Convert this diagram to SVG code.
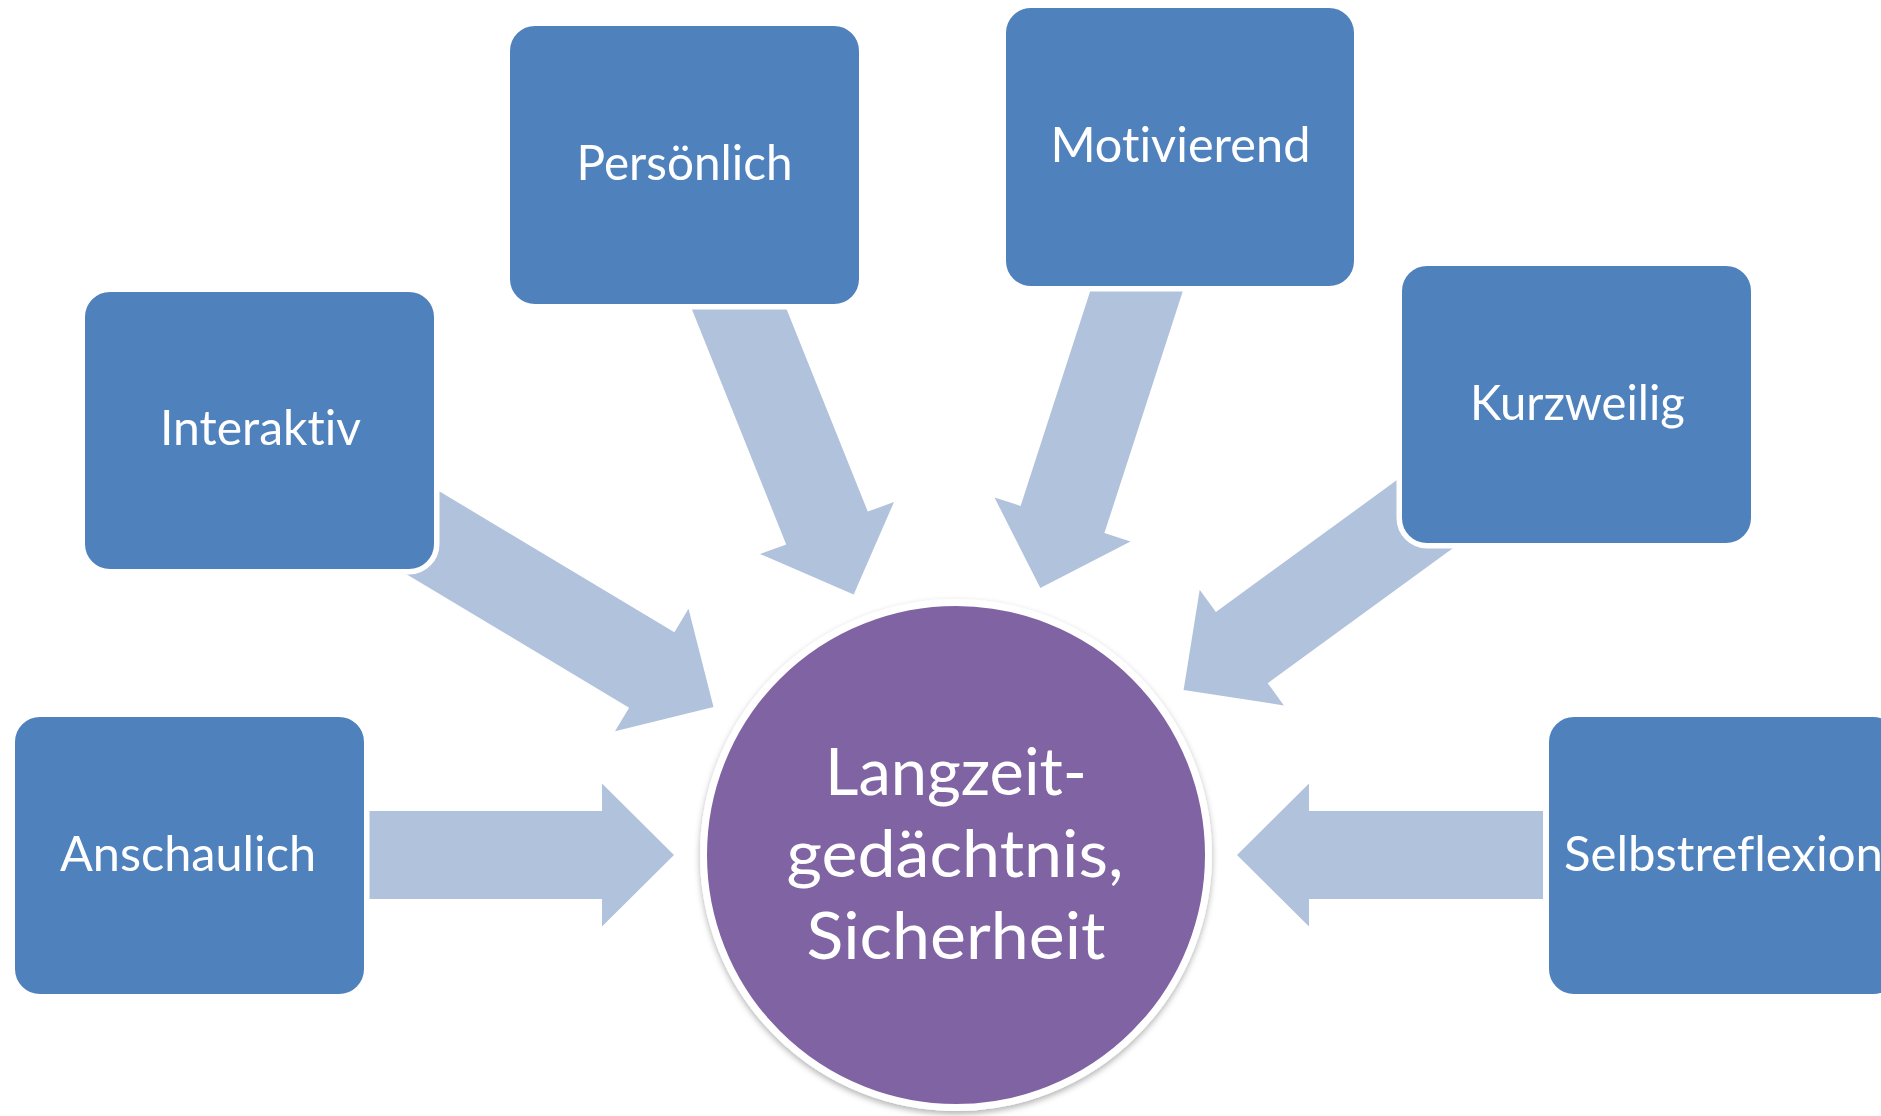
<svg xmlns="http://www.w3.org/2000/svg" width="1881" height="1116" viewBox="0 0 1881 1116">
  <defs>
    <style>
      .arrow { fill: #B1C2DC; }
      .box { fill: #4F81BD; stroke: #FFFFFF; stroke-width: 5.5; }
      .lbl { font-family: Lato, "Liberation Sans", sans-serif; font-size: 49px; fill: #FFFFFF; text-anchor: middle; font-variant-ligatures: none; font-feature-settings: "liga" 0, "clig" 0; }
      .clbl { font-family: Lato, "Liberation Sans", sans-serif; font-size: 65px; fill: #FFFFFF; text-anchor: middle; font-variant-ligatures: none; font-feature-settings: "liga" 0, "clig" 0; }
    </style>
    <filter id="shadow" x="-20%" y="-20%" width="140%" height="140%">
      <feDropShadow dx="0" dy="3" stdDeviation="3" flood-color="#000000" flood-opacity="0.3"/>
    </filter>
  </defs>
  <rect x="0" y="0" width="1881" height="1116" fill="#FFFFFF"/>

  <g id="connectors">
    <polygon class="arrow" points="369,811 602,811 602,783.5 674,855 602,926.5 602,899 369,899"/>
    <polygon class="arrow" points="1543,811 1309,811 1309,783.5 1237,855 1309,926.5 1309,899 1543,899"/>
    <polygon class="arrow" points="417.1,478 674.4,632.2 688.5,608.7 713.5,707 615,731.3 629.1,707.7 371.9,553.4"/>
    <polygon class="arrow" points="674.5,266.1 786.2,544.4 760,554 853.7,594.5 894,502 867.8,511.6 756.1,233.3"/>
    <polygon class="arrow" points="1113.1,220.5 1020.6,505.9 994.5,497.5 1040.3,588 1130.5,541.5 1104.4,533.1 1196.9,247.7"/>
    <polygon class="arrow" points="1458.3,435.3 1215.9,612 1199.7,589.8 1183.6,690 1283.9,705.4 1267.7,683.2 1510.1,506.5"/>
  </g>

  <g id="node-center" filter="url(#shadow)">
    <circle cx="956" cy="855" r="252.5" fill="#8064A2" stroke="#FFFFFF" stroke-width="7"/>
  </g>
  <g id="node-center-label">
    <text class="clbl" x="956" y="795" textLength="262" lengthAdjust="spacingAndGlyphs">Langzeit-</text>
    <text class="clbl" x="955" y="877" textLength="337" lengthAdjust="spacingAndGlyphs">gedächtnis,</text>
    <text class="clbl" x="956" y="959" textLength="299" lengthAdjust="spacingAndGlyphs">Sicherheit</text>
  </g>

  <g id="node-anschaulich">
    <rect class="box" x="12.25" y="714.25" width="354.5" height="282.5" rx="27.75" ry="27.75"/>
    <text class="lbl" x="188" y="871" textLength="256" lengthAdjust="spacingAndGlyphs">Anschaulich</text>
  </g>
  <g id="node-interaktiv">
    <rect class="box" x="82.25" y="289.25" width="354.5" height="282.5" rx="27.75" ry="27.75"/>
    <text class="lbl" x="260.5" y="445" textLength="201" lengthAdjust="spacingAndGlyphs">Interaktiv</text>
  </g>
  <g id="node-persoenlich">
    <rect class="box" x="507.25" y="23.25" width="354.5" height="283.5" rx="27.75" ry="27.75"/>
    <text class="lbl" x="684.6" y="180" textLength="216" lengthAdjust="spacingAndGlyphs">Persönlich</text>
  </g>
  <g id="node-motivierend">
    <rect class="box" x="1003.25" y="5.25" width="353.5" height="283.5" rx="27.75" ry="27.75"/>
    <text class="lbl" x="1180.4" y="162" textLength="260" lengthAdjust="spacingAndGlyphs">Motivierend</text>
  </g>
  <g id="node-kurzweilig">
    <rect class="box" x="1399.25" y="263.25" width="354.5" height="282.5" rx="27.75" ry="27.75"/>
    <text class="lbl" x="1577.4" y="420" textLength="215" lengthAdjust="spacingAndGlyphs">Kurzweilig</text>
  </g>
  <g id="node-selbstreflexion">
    <rect class="box" x="1546.25" y="714.25" width="354.5" height="282.5" rx="27.75" ry="27.75"/>
    <text class="lbl" x="1723.5" y="871" textLength="319" lengthAdjust="spacingAndGlyphs">Selbstreflexion</text>
  </g>
</svg>
